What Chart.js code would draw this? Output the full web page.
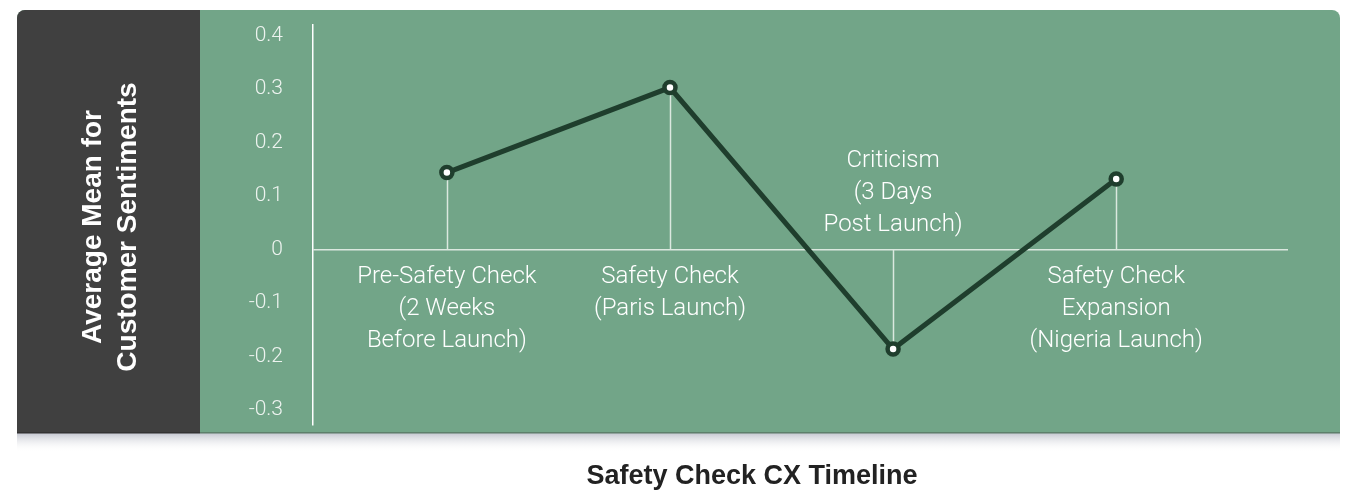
<!DOCTYPE html>
<html>
<head>
<meta charset="utf-8">
<script src="https://cdn.jsdelivr.net/npm/chart.js@4.4.1/dist/chart.umd.min.js"></script>
<style>
  html, body { margin: 0; padding: 0; background: #fff; }
  #wrap { width: 1346px; height: 492px; }
</style>
</head>
<body>
<div id="wrap"><canvas id="chart" width="1346" height="492"></canvas></div>
<script>
const stages = [
  ['Pre-Safety Check', '(2 Weeks', 'Before Launch)'],
  ['Safety Check', '(Paris Launch)'],
  ['Criticism', '(3 Days', 'Post Launch)'],
  ['Safety Check', 'Expansion', '(Nigeria Launch)']
];

const sentiment = [0.144, 0.303, -0.186, 0.132];

const yTicks = [-0.3, -0.2, -0.1, 0, 0.1, 0.2, 0.3, 0.4];

const yTitle = ['Average Mean for', 'Customer Sentiments'];
const chartTitle = 'Safety Check CX Timeline';

const green = '#72a588';
const dark = '#404040';
const lineColor = '#1f3e2d';
const labelFont = '300 24px "Roboto", "Liberation Sans", sans-serif';

const points = sentiment.map((v, i) => ({ x: i, y: v }));

// panel, shadow and the rotated axis title
const backdrop = {
  id: 'backdrop',
  beforeDraw(chart) {
    const c = chart.ctx;
    c.save();
    c.fillStyle = '#ffffff';
    c.fillRect(0, 0, chart.width, chart.height);

    const grad = c.createLinearGradient(0, 433, 0, 452);
    grad.addColorStop(0, '#c3c6cf');
    grad.addColorStop(1, 'rgba(255,255,255,0)');
    c.fillStyle = grad;
    c.fillRect(17, 433, 1323, 19);

    c.beginPath();
    c.roundRect(17, 10, 1323, 423, [8, 8, 0, 0]);
    c.fillStyle = green;
    c.fill();

    c.beginPath();
    c.roundRect(17, 10, 183, 423, [8, 0, 0, 0]);
    c.fillStyle = dark;
    c.fill();

    c.fillStyle = '#5d7f6b';
    c.fillRect(200, 432, 1140, 1.5);
    c.fillStyle = '#333333';
    c.fillRect(17, 432, 183, 1.5);

    c.translate(110, 227);
    c.rotate(-Math.PI / 2);
    c.fillStyle = '#ffffff';
    c.font = 'bold 28px "Liberation Sans", Arial, sans-serif';
    c.textAlign = 'center';
    c.textBaseline = 'middle';
    c.fillText(yTitle[0], 0, -17);
    c.fillText(yTitle[1], 0, 18);
    c.restore();
  },
  beforeDatasetsDraw(chart) {
    const c = chart.ctx;
    const xs = chart.scales.x, ys = chart.scales.y;
    const y0 = ys.getPixelForValue(0);
    c.save();
    c.strokeStyle = '#dbe8df';
    c.lineWidth = 1.5;
    points.forEach(p => {
      const px = Math.round(xs.getPixelForValue(p.x)) + 0.5;
      c.beginPath();
      c.moveTo(px, ys.getPixelForValue(p.y));
      c.lineTo(px, y0);
      c.stroke();
    });

    c.fillStyle = '#ffffff';
    c.font = labelFont;
    c.textAlign = 'center';
    c.textBaseline = 'middle';
    stages.forEach((lines, i) => {
      const px = xs.getPixelForValue(i);
      const lh = 32;
      if (sentiment[i] >= 0) {
        lines.forEach((t, k) => c.fillText(t, px, y0 + 27 + k * lh));
      } else {
        const n = lines.length;
        lines.forEach((t, k) => c.fillText(t, px, y0 - 25 - (n - 1 - k) * lh));
      }
    });

    c.fillStyle = '#222222';
    c.font = 'bold 27px "Liberation Sans", Arial, sans-serif';
    c.fillText(chartTitle, 752, 477);
    c.restore();
  }
};

const data = {
  datasets: [{
    data: points,
    borderColor: lineColor,
    borderWidth: 5,
    pointRadius: 5.5,
    pointBorderWidth: 4.5,
    pointBackgroundColor: '#ffffff',
    pointBorderColor: lineColor,
    tension: 0
  }]
};

const options = {
  responsive: false,
  animation: false,
  layout: { padding: { left: 200, right: 58, top: 25, bottom: 67 } },
  plugins: { legend: { display: false }, tooltip: { enabled: false }, title: { display: false } },
  scales: {
    x: {
      type: 'linear',
      display: false,
      min: -0.6,
      max: 3.77
    },
    y: {
      min: -0.328,
      max: 0.42,
      afterFit(scale) {
        scale.width = 113;
        scale.paddingTop = 0;
        scale.paddingBottom = 0;
      },
      afterBuildTicks(scale) { scale.ticks = yTicks.map(v => ({ value: v })); },
      ticks: {
        color: '#edf3ef',
        padding: 30,
        font: { family: '"Roboto", "Liberation Sans", sans-serif', size: 21, weight: 300 },
        callback: v => (v === 0 ? '0' : v.toFixed(1))
      },
      grid: {
        drawTicks: false,
        lineWidth: 1.5,
        color: ctx => (ctx.tick && ctx.tick.value === 0 ? '#dbe8df' : 'rgba(0,0,0,0)')
      },
      border: { display: true, color: '#ffffff', width: 1.5 }
    }
  }
};

const config = {
  type: 'line',
  data: data,
  options: options,
  plugins: [backdrop]
};

const ctx = document.getElementById('chart');
var myChart = new Chart(ctx, config);
</script>
</body>
</html>
